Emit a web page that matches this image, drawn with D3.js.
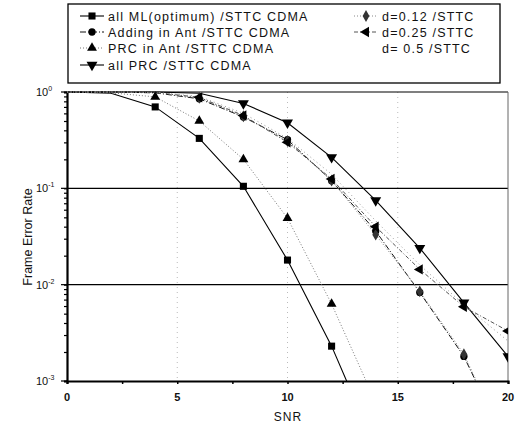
<!DOCTYPE html>
<html>
<head>
<meta charset="utf-8">
<script src="https://cdn.jsdelivr.net/npm/d3@7/dist/d3.min.js"></script>
<style>
  body { margin: 0; background: #fff; }
  text { font-family: "Liberation Sans", Arial, sans-serif; fill: #111; }
</style>
</head>
<body>
<div class="canvas"></div>
<script>
// data
const snr = [0, 2, 4, 6, 8, 10, 12, 14, 16, 18, 20];
const allML = [1, 0.97, 0.70, 0.33, 0.105, 0.018, 0.0023, 0.0002];
const addingAnt = [1, 1, 0.98, 0.85, 0.55, 0.32, 0.12, 0.036, 0.0083, 0.0018, 0.0002];
const prcAnt = [1, 0.98, 0.89, 0.5, 0.2, 0.049, 0.0063, 0.0006];
const allPRC = [1, 1, 1, 0.97, 0.76, 0.48, 0.21, 0.075, 0.024, 0.0065, 0.0018];
const d012 = [1, 1, 0.99, 0.87, 0.56, 0.31, 0.12, 0.033, 0.0085, 0.0019, 0.0002];
const d025 = [1, 1, 0.99, 0.88, 0.57, 0.30, 0.125, 0.04, 0.0144, 0.0059, 0.0033];
const d05 = [1, 1, 0.99, 0.9, 0.6, 0.33, 0.14, 0.046, 0.016, 0.0062, 0.0026];
const xTicks = [0, 5, 10, 15, 20];
const yTicks = [1, 0.1, 0.01, 0.001];
const yTickExp = ['0', '-1', '-2', '-3'];

const series = [
  { name: 'all ML(optimum) /STTC CDMA', values: allML, marker: 'square', colour: '#000', dash: null, width: 1.1 },
  { name: 'Adding in Ant /STTC CDMA', values: addingAnt, marker: 'circle', colour: '#111', dash: '6,2,1,2', width: 1 },
  { name: 'PRC in Ant /STTC CDMA', values: prcAnt, marker: 'triUp', colour: '#777', dash: '1,2', width: 1 },
  { name: 'all PRC /STTC CDMA', values: allPRC, marker: 'triDown', colour: '#000', dash: null, width: 1.1 },
  { name: 'd=0.12 /STTC', values: d012, marker: 'diamond', colour: '#888', dash: '1,2', width: 1 },
  { name: 'd=0.25 /STTC', values: d025, marker: 'triLeft', colour: '#555', dash: '4,2,1,2', width: 1 },
  { name: 'd= 0.5 /STTC', values: d05, marker: null, colour: '#999', dash: '1,3', width: 1 }
];

const W = 515, H = 425;
const plot = { left: 67, right: 508, top: 92, bottom: 381 };

const svg = d3.select('.canvas')
    .append('svg')
    .attr('width', W)
    .attr('height', H);

const x = d3.scaleLinear().domain([0, 20]).range([plot.left, plot.right]);
const y = d3.scaleLog().domain([1e-3, 1]).range([plot.bottom, plot.top]);

svg.append('clipPath').attr('id', 'clip')
  .append('rect')
    .attr('x', plot.left).attr('y', plot.top - 6)
    .attr('width', plot.right - plot.left).attr('height', plot.bottom - plot.top + 6);

// faint vertical grid
svg.append('g').selectAll('line')
  .data([5, 10, 15])
  .enter().append('line')
    .attr('x1', d => x(d)).attr('x2', d => x(d))
    .attr('y1', plot.top).attr('y2', plot.bottom)
    .attr('stroke', '#bbb').attr('stroke-dasharray', '1,4');

// horizontal decade lines
svg.append('g').selectAll('line')
  .data([0.1, 0.01])
  .enter().append('line')
    .attr('x1', plot.left).attr('x2', plot.right)
    .attr('y1', d => y(d)).attr('y2', d => y(d))
    .attr('stroke', '#000').attr('stroke-width', 1.2);

// frame
svg.append('line').attr('x1', plot.left).attr('x2', plot.right)
  .attr('y1', plot.top).attr('y2', plot.top).attr('stroke', '#000').attr('stroke-width', 1.2);
svg.append('line').attr('x1', plot.right).attr('x2', plot.right)
  .attr('y1', plot.top).attr('y2', plot.bottom).attr('stroke', '#666').attr('stroke-width', 1);

// axes
const xAxis = d3.axisBottom(x).tickValues(d3.range(0, 20.1, 2.5)).tickSize(3).tickFormat('');
svg.append('g').attr('transform', `translate(0, ${plot.bottom})`).call(xAxis)
  .call(g => g.select('.domain').attr('stroke-width', 2.2))
  .call(g => g.selectAll('.tick line').attr('stroke-width', 1.5));

svg.append('g').selectAll('text')
  .data(xTicks)
  .enter().append('text')
    .attr('x', d => x(d)).attr('y', 401)
    .attr('text-anchor', 'middle')
    .attr('font-size', 11).attr('font-weight', 'bold')
    .text(d => d);

const minorY = [];
[0.001, 0.01, 0.1].forEach(b => { for (let k = 1; k < 10; k++) minorY.push(b * k); });
minorY.push(1);
const yAxis = d3.axisLeft(y).tickValues(minorY).tickSize(3).tickFormat('');
svg.append('g').attr('transform', `translate(${plot.left}, 0)`).call(yAxis)
  .call(g => g.select('.domain').attr('stroke-width', 2.2))
  .call(g => g.selectAll('.tick line').attr('stroke-width', 1.2));
svg.append('g').selectAll('line')
  .data(yTicks)
  .enter().append('line')
    .attr('x1', plot.left - 6).attr('x2', plot.left)
    .attr('y1', d => y(d)).attr('y2', d => y(d))
    .attr('stroke', '#000').attr('stroke-width', 1.2);

const yLab = svg.append('g').selectAll('text')
  .data(yTicks)
  .enter().append('text')
    .attr('x', 36).attr('y', d => y(d) + 4)
    .attr('font-size', 11);
yLab.append('tspan').text('10');
yLab.append('tspan').attr('dy', -5).attr('font-size', 7).text((d, i) => yTickExp[i]);

svg.append('text')
  .attr('transform', `translate(32, 237) rotate(-90)`)
  .attr('text-anchor', 'middle').attr('font-size', 12.5)
  .text('Frame Error Rate');
svg.append('text')
  .attr('x', 288).attr('y', 421)
  .attr('text-anchor', 'middle').attr('font-size', 12).attr('letter-spacing', 1)
  .text('SNR');

// markers
const symbolFor = {
  square: d3.symbol().type(d3.symbolSquare).size(50),
  circle: d3.symbol().type(d3.symbolCircle).size(42),
  triUp: d3.symbol().type(d3.symbolTriangle).size(42),
  triDown: d3.symbol().type(d3.symbolTriangle).size(52),
  triLeft: d3.symbol().type(d3.symbolTriangle).size(46),
  diamond: d3.symbol().type(d3.symbolDiamond).size(40)
};
const rotFor = { triDown: 180, triLeft: -90 };

const line = d3.line().x(d => x(d[0])).y(d => y(d[1]));

const lines = svg.append('g').attr('clip-path', 'url(#clip)');
series.forEach(s => {
  const pts = s.values.map((v, i) => [snr[i], v]);
  lines.append('path')
    .attr('d', line(pts))
    .attr('fill', 'none')
    .attr('stroke', s.colour)
    .attr('stroke-width', s.width)
    .attr('stroke-dasharray', s.dash);
});
series.forEach(s => {
  if (!s.marker) return;
  const pts = s.values.map((v, i) => [snr[i], v]).filter(p => p[1] >= 1e-3 && p[1] < 0.96);
  lines.selectAll(null)
    .data(pts)
    .enter().append('path')
      .attr('d', symbolFor[s.marker]())
      .attr('transform', d => `translate(${x(d[0])}, ${y(d[1])}) rotate(${rotFor[s.marker] || 0})`)
      .attr('fill', s.marker === 'diamond' ? '#333' : '#000');
});

// legend
const legendGroup = svg.append('g');
legendGroup.append('rect')
  .attr('x', 68).attr('y', 4).attr('width', 432).attr('height', 79)
  .attr('fill', '#fff').attr('stroke', '#000').attr('stroke-width', 1.3);

const legendPos = [
  { lx: 80, ty: 16 }, { lx: 80, ty: 32 }, { lx: 80, ty: 48 }, { lx: 80, ty: 65 },
  { lx: 354, ty: 16 }, { lx: 354, ty: 32 }, { lx: 354, ty: 48 }
];
series.forEach((s, i) => {
  const p = legendPos[i];
  const g = legendGroup.append('g');
  if (s.marker) {
    g.append('line')
      .attr('x1', p.lx).attr('x2', p.lx + 24)
      .attr('y1', p.ty).attr('y2', p.ty)
      .attr('stroke', s.colour).attr('stroke-width', s.width)
      .attr('stroke-dasharray', s.dash);
    g.append('path')
      .attr('d', symbolFor[s.marker]())
      .attr('transform', `translate(${p.lx + 12}, ${p.ty}) rotate(${rotFor[s.marker] || 0})`)
      .attr('fill', s.marker === 'diamond' ? '#333' : '#000');
  }
  g.append('text')
    .attr('x', p.lx + 28).attr('y', p.ty + 4.5)
    .attr('font-size', 12.5).attr('letter-spacing', 1.2)
    .text(s.name);
});
</script>
</body>
</html>
